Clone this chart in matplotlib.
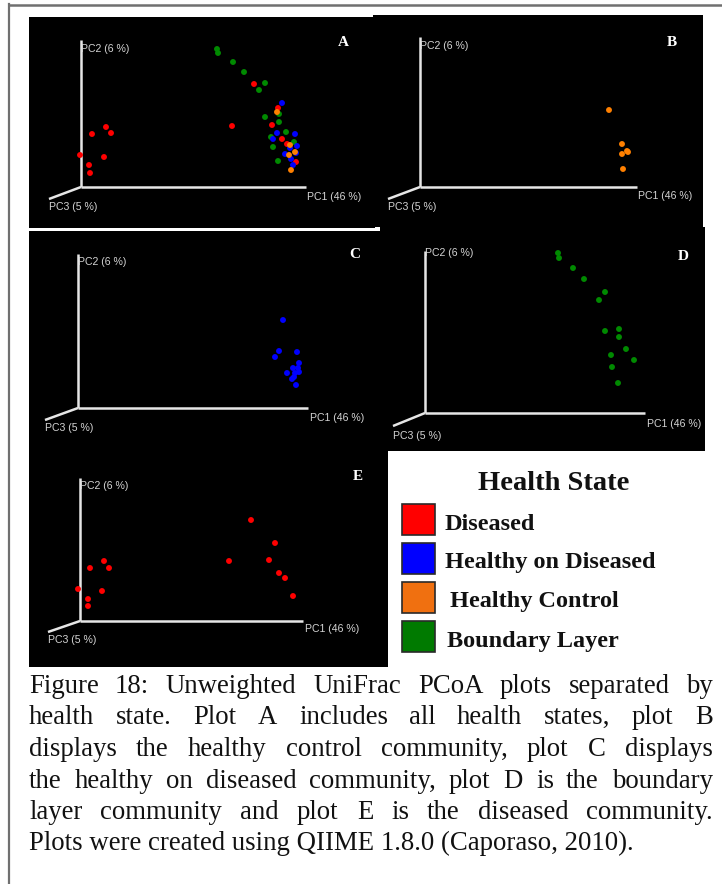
import matplotlib
matplotlib.use("Agg")
import matplotlib.pyplot as plt
from matplotlib.lines import Line2D
from matplotlib.patches import Rectangle

W, H = 722, 884

# ---------------- data (screen offsets from each panel's axis origin: PC1 right, PC2 up) -------------
colors = {"Diseased": "#ff0000", "Healthy on Diseased": "#0000ff",
          "Healthy Control": "#ff8000", "Boundary Layer": "#008a00"}
legend_labels = ["Diseased", "Healthy on Diseased", "Healthy Control", "Boundary Layer"]
legend_colors = ["#ff0000", "#0000ff", "#f07010", "#007a00"]

axis_labels = ["PC1 (46 %)", "PC2 (6 %)", "PC3 (5 %)"]

A_diseased_pc1 = [25, 11, 30, -1, 23, 8, 9, 173, 151, 197, 191, 201, 206, 215]
A_diseased_pc2 = [60, 53, 54, 32, 30, 22, 14, 103, 61, 79, 62, 48, 43, 25]
A_boundary_pc1 = [136, 137, 152, 163, 184, 178, 184, 198, 198, 205, 190, 192, 213, 197]
A_boundary_pc2 = [138, 134, 125, 115, 104, 97, 70, 73, 65, 55, 50, 40, 45, 26]
A_hod_pc1 = [201, 196, 192, 214, 209, 216, 204, 210, 212, 215]
A_hod_pc2 = [84, 54, 48, 53, 39, 41, 33, 28, 22, 34]
A_control_pc1 = [196, 209, 214, 208, 210]
A_control_pc2 = [75, 42, 35, 32, 17]

B_control_pc1 = [189, 202, 202, 207, 208, 203]
B_control_pc2 = [77, 43, 33, 36, 35, 18]

C_hod_pc1 = [205, 201, 197, 219, 221, 215, 220, 209, 217, 221, 214, 218, 216]
C_hod_pc2 = [88, 57, 51, 56, 45, 40, 40, 35, 35, 36, 29, 23, 31]

D_boundary_pc1 = [133, 134, 148, 159, 180, 174, 180, 194, 194, 201, 186, 209, 187, 193]
D_boundary_pc2 = [160, 155, 145, 134, 121, 113, 82, 84, 76, 64, 58, 53, 46, 30]

E_diseased_pc1 = [24, 10, 29, -2, 22, 8, 8, 171, 195, 149, 189, 199, 205, 213]
E_diseased_pc2 = [60, 53, 53, 32, 30, 22, 15, 101, 78, 60, 61, 48, 43, 25]

caption_lines = [
    "Figure 18: Unweighted UniFrac PCoA plots separated by",
    "health state. Plot A includes all health states, plot B",
    "displays the healthy control community, plot C displays",
    "the healthy on diseased community, plot D is the boundary",
    "layer community and plot E is the diseased community.",
    "Plots were created using QIIME 1.8.0 (Caporaso, 2010).",
]

# ---------------- layout (pixels) ----------------
panels = {
    "A": dict(rect=(29, 17, 375, 228), origin=(81, 187), pc1=225, pc2=147, pc3=(-32, -12),
              letter=(262, 144), lab1=(226, -10), lab2=(0, 138), lab3=(-32, -20),
              series=[(A_diseased_pc1, A_diseased_pc2, "Diseased"),
                      (A_boundary_pc1, A_boundary_pc2, "Boundary Layer"),
                      (A_hod_pc1, A_hod_pc2, "Healthy on Diseased"),
                      (A_control_pc1, A_control_pc2, "Healthy Control")]),
    "B": dict(rect=(373, 15, 703, 227), origin=(420, 187), pc1=217, pc2=150, pc3=(-32, -12),
              letter=(252, 144), lab1=(218, -9), lab2=(0, 141), lab3=(-32, -20),
              series=[(B_control_pc1, B_control_pc2, "Healthy Control")]),
    "C": dict(rect=(29, 231, 383, 445), origin=(78, 408), pc1=230, pc2=154, pc3=(-33, -12),
              letter=(277, 153), lab1=(232, -10), lab2=(0, 146), lab3=(-33, -20),
              series=[(C_hod_pc1, C_hod_pc2, "Healthy on Diseased")]),
    "D": dict(rect=(380, 227, 705, 452), origin=(425, 413), pc1=220, pc2=162, pc3=(-32, -13),
              letter=(258, 156), lab1=(222, -11), lab2=(0, 160), lab3=(-32, -23),
              series=[(D_boundary_pc1, D_boundary_pc2, "Boundary Layer")]),
    "E": dict(rect=(29, 445, 388, 667), origin=(80, 621), pc1=223, pc2=143, pc3=(-32, -11),
              letter=(278, 144), lab1=(225, -8), lab2=(0, 135), lab3=(-32, -19),
              series=[(E_diseased_pc1, E_diseased_pc2, "Diseased")]),
}

fig = plt.figure(figsize=(W / 100, H / 100), dpi=100)
fig.patch.set_facecolor("white")


def fx(px):
    return px / W


def fy(py):
    return 1 - py / H


# outer frame
fig.add_artist(Line2D([fx(9), fx(9)], [fy(4), fy(884)], color="#707070", lw=1.6))
fig.add_artist(Line2D([fx(9), fx(722)], [fy(4.5), fy(4.5)], color="#707070", lw=1.8))

for name in ["A", "B", "D", "C", "E"]:
    p = panels[name]
    x0, y0, x1, y1 = p["rect"]
    ox, oy = p["origin"]
    ax = fig.add_axes([fx(x0), fy(y1), (x1 - x0) / W, (y1 - y0) / H])
    ax.set_facecolor("black")
    for s in ax.spines.values():
        s.set_visible(False)
    ax.set_xticks([])
    ax.set_yticks([])
    ax.set_xlim(x0 - ox, x1 - ox)
    ax.set_ylim(oy - y1, oy - y0)
    lc = "#e6e6e6"
    ax.plot([0, p["pc1"]], [0, 0], color=lc, lw=1.8, solid_capstyle="butt")
    ax.plot([0, 0], [0, p["pc2"]], color=lc, lw=1.8, solid_capstyle="butt")
    ax.plot([0, p["pc3"][0]], [0, p["pc3"][1]], color=lc, lw=1.8, solid_capstyle="butt")
    tc = "#d4d4d4"
    ax.text(p["lab1"][0], p["lab1"][1], axis_labels[0], color=tc, fontsize=7.6,
            family="Liberation Sans", ha="left", va="center")
    ax.text(p["lab2"][0], p["lab2"][1], axis_labels[1], color=tc, fontsize=7.6,
            family="Liberation Sans", ha="left", va="center")
    ax.text(p["lab3"][0], p["lab3"][1], axis_labels[2], color=tc, fontsize=7.6,
            family="Liberation Sans", ha="left", va="center")
    ax.text(p["letter"][0], p["letter"][1], name, color="white", fontsize=11,
            family="Liberation Serif", fontweight="bold", ha="center", va="center")
    for xs, ys, lab in p["series"]:
        ax.scatter(xs, ys, s=18, color=colors[lab], edgecolors="none", zorder=3)

# legend box
lg = fig.add_axes([fx(388), fy(667), (722 - 388) / W, (667 - 451) / H])
lg.set_xlim(388, 722)
lg.set_ylim(667, 451)
lg.set_facecolor("white")
for s in lg.spines.values():
    s.set_visible(False)
lg.set_xticks([])
lg.set_yticks([])
lg.text(554, 490, "Health State", fontsize=20.5, family="Liberation Serif",
        fontweight="bold", ha="center", va="baseline", color="#111111")
sq_tops = [504, 543, 582, 621]
txt_base = [530, 568, 607, 647]
txt_x = [445, 445, 450, 447]
for lab, col, t, b, x in zip(legend_labels, legend_colors, sq_tops, txt_base, txt_x):
    lg.add_patch(Rectangle((402, t), 33, 31, facecolor=col, edgecolor="#2a2a2a", lw=1.2))
    lg.text(x, b, lab, fontsize=17.5, family="Liberation Serif", fontweight="bold",
            ha="left", va="baseline", color="#111111")

# caption (justified)
cap_size = 19.3
renderer = fig.canvas.get_renderer()


def wwidth(s):
    t = fig.text(0, 0, s, fontsize=cap_size, family="Liberation Serif")
    w = t.get_window_extent(renderer).width
    t.remove()
    return w


left, right = 29, 713
base0, step = 693, 31.5
for i, line in enumerate(caption_lines):
    yb = round(base0 + i * step)
    if i == len(caption_lines) - 1:
        fig.text(fx(left), fy(yb), line, fontsize=cap_size, family="Liberation Serif",
                 ha="left", va="baseline", color="#111111")
        continue
    words = line.split(" ")
    widths = [wwidth(w) for w in words]
    gap = (right - left - sum(widths)) / (len(words) - 1)
    x = left
    for w, wd in zip(words, widths):
        fig.text(fx(round(x)), fy(yb), w, fontsize=cap_size, family="Liberation Serif",
                 ha="left", va="baseline", color="#111111")
        x += wd + gap

fig.savefig("out.png", dpi=100, facecolor="white")
